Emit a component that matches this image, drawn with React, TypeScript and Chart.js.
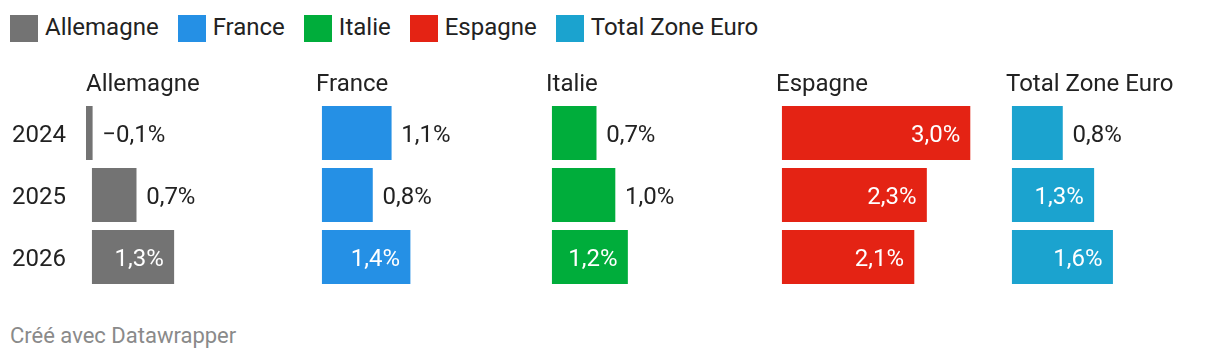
import React, { useEffect, useRef } from "react";
import { Chart, registerables } from "chart.js";

Chart.register(...registerables);

const years = ["2024", "2025", "2026"];
const countries = ["Allemagne", "France", "Italie", "Espagne", "Total Zone Euro"];
const colors = ["#737373", "#2590e5", "#00ad3b", "#e42314", "#1ba3cf"];
const allemagne = [-0.1, 0.7, 1.3];
const france = [1.1, 0.8, 1.4];
const italie = [0.7, 1.0, 1.2];
const espagne = [3.0, 2.3, 2.1];
const totalZoneEuro = [0.8, 1.3, 1.6];
const seriesValues = [allemagne, france, italie, espagne, totalZoneEuro];
const axisMin = -0.1;
const axisMax = 3.0;
const footerText = "Créé avec Datawrapper";

const FONT = "Roboto, 'DejaVu Sans', sans-serif";
const FS = 24;
const TEXT = "#222222";

const fmt = (v: number) => (v < 0 ? "\u2212" : "") + Math.abs(v).toFixed(1).replace(".", ",") + "%";

const CANVAS_TOP = 60;
const CANVAS_H = 240;
const PLOT_W = 194.4;

function Panel({ index }: { index: number }) {
  const ref = useRef<HTMLCanvasElement | null>(null);
  const first = index === 0;
  const left = first ? 0 : 86 + 230 * index;
  const width = first ? 316 : 230;
  useEffect(() => {
    const canvas = ref.current;
    if (!canvas) return;
    const title = countries[index];
    const panelPlugin = {
      id: "panelText" + index,
      afterDraw(chart: any) {
        const ctx = chart.ctx;
        const area = chart.chartArea;
        ctx.save();
        ctx.font = `${FS}px ${FONT}`;
        ctx.fillStyle = TEXT;
        ctx.textAlign = "left";
        ctx.textBaseline = "alphabetic";
        ctx.fillText(title, area.left, 31);
        if (first) {
          const yScale = chart.scales.y;
          (chart.data.labels as string[]).forEach((lab, i) => {
            ctx.fillText(lab, 12, yScale.getPixelForValue(i) + FS * 0.355);
          });
        }
        const meta = chart.getDatasetMeta(0);
        const vals = chart.data.datasets[0].data as number[];
        meta.data.forEach((el: any, i: number) => {
          const v = vals[i];
          const label = fmt(v);
          const tw = ctx.measureText(label).width;
          const barW = Math.abs(el.x - el.base);
          const y = el.y + FS * 0.355;
          if (barW > tw + 25) {
            ctx.fillStyle = "#ffffff";
            ctx.textAlign = "right";
            ctx.fillText(label, Math.max(el.x, el.base) - 10, y);
          } else {
            ctx.fillStyle = TEXT;
            ctx.textAlign = "left";
            ctx.fillText(label, Math.max(el.x, el.base) + 10, y);
          }
        });
        ctx.restore();
      },
    };
    const chart = new Chart(canvas, {
      type: "bar",
      data: {
        labels: years,
        datasets: [
          {
            label: title,
            data: seriesValues[index],
            backgroundColor: colors[index],
            barThickness: 53.5,
            borderWidth: 0,
          },
        ],
      },
      options: {
        indexAxis: "y",
        animation: false,
        responsive: false,
        devicePixelRatio: 1,
        layout: {
          padding: {
            left: first ? 86 : 0,
            right: width - (first ? 86 : 0) - PLOT_W,
            top: 42,
            bottom: CANVAS_H - 42 - 186,
          },
        },
        plugins: { legend: { display: false }, tooltip: { enabled: false }, title: { display: false } },
        scales: {
          x: { type: "linear", min: axisMin, max: axisMax, display: false },
          y: { display: false },
        },
      } as any,
      plugins: [panelPlugin],
    });
    return () => chart.destroy();
  }, [index]);
  return (
    <canvas
      ref={ref}
      width={width}
      height={CANVAS_H}
      style={{ position: "absolute", left, top: CANVAS_TOP, width, height: CANVAS_H }}
    />
  );
}

export default function App() {
  return (
    <div
      style={{
        position: "absolute",
        left: 0,
        top: 0,
        width: 1220,
        height: 362,
        overflow: "hidden",
        background: "#ffffff",
        fontFamily: FONT,
        color: TEXT,
      }}
    >
      <div style={{ position: "absolute", left: 10, top: 15, display: "flex", alignItems: "center", height: 27 }}>
        {countries.map((c, i) => (
          <div key={c} style={{ display: "flex", alignItems: "center", marginRight: 19 }}>
            <div style={{ width: 28, height: 27, background: colors[i], marginRight: 7 }} />
            <span style={{ fontSize: FS, lineHeight: "27px", whiteSpace: "nowrap", position: "relative", top: -1 }}>
              {c}
            </span>
          </div>
        ))}
      </div>
      {countries.map((c, i) => (
        <Panel key={c} index={i} />
      ))}
      <div style={{ position: "absolute", left: 10, top: 322, fontSize: 22, lineHeight: "28px", color: "#8a8a8a" }}>
        {footerText}
      </div>
    </div>
  );
}
